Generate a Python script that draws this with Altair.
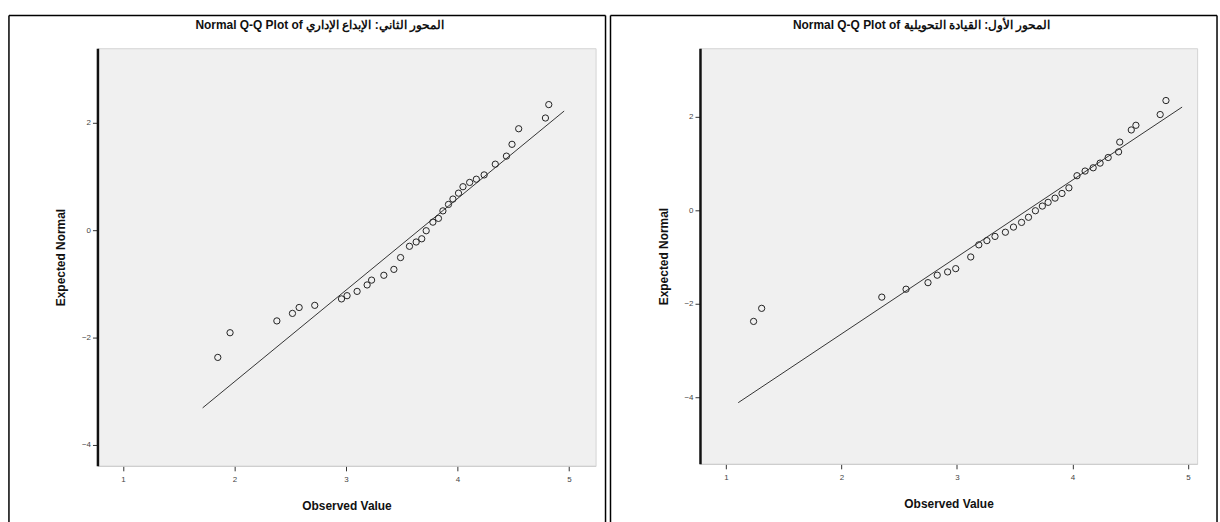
import altair as alt
import pandas as pd

TITLE_LEFT = "Normal Q-Q Plot of المحور الثاني: الإبداع الإداري"
TITLE_RIGHT = "Normal Q-Q Plot of المحور الأول: القيادة التحويلية"
X_TITLE = "Observed Value"
Y_TITLE = "Expected Normal"

x_ticks = [1, 2, 3, 4, 5]
y_ticks = [2, 0, -2, -4]

left_observed = [1.85, 1.96, 2.38, 2.52, 2.58, 2.72, 2.96, 3.01, 3.10, 3.19, 3.23,
                 3.34, 3.43, 3.49, 3.57, 3.63, 3.68, 3.72, 3.78, 3.83, 3.87, 3.92,
                 3.96, 4.01, 4.05, 4.11, 4.17, 4.24, 4.34, 4.44, 4.49, 4.55, 4.79, 4.82]
left_expected = [-2.37, -1.91, -1.69, -1.55, -1.44, -1.40, -1.28, -1.22, -1.14, -1.02, -0.93,
                 -0.84, -0.73, -0.51, -0.30, -0.22, -0.16, -0.01, 0.15, 0.22, 0.36, 0.48,
                 0.58, 0.69, 0.81, 0.89, 0.95, 1.03, 1.23, 1.38, 1.60, 1.89, 2.09, 2.34]
left_line_x = [1.714, 4.958]
left_line_y = [-3.31, 2.22]

right_observed = [1.24, 1.31, 2.35, 2.56, 2.75, 2.83, 2.92, 2.99, 3.12, 3.19, 3.26,
                  3.33, 3.42, 3.49, 3.56, 3.62, 3.68, 3.74, 3.79, 3.85, 3.91, 3.97,
                  4.04, 4.11, 4.18, 4.24, 4.31, 4.40, 4.41, 4.51, 4.55, 4.76, 4.81]
right_expected = [-2.38, -2.10, -1.86, -1.69, -1.55, -1.39, -1.32, -1.25, -1.00, -0.74, -0.65,
                  -0.56, -0.47, -0.36, -0.26, -0.15, -0.01, 0.09, 0.17, 0.26, 0.36, 0.48,
                  0.74, 0.84, 0.91, 1.01, 1.13, 1.25, 1.46, 1.72, 1.82, 2.05, 2.35]
right_line_x = [1.107, 4.95]
right_line_y = [-4.12, 2.21]

FONT = "Liberation Sans"


def panel(obs, exp, lx, ly, title, xdom, ydom, w, h, fx0, fx1):
    pts_df = pd.DataFrame({"obs": obs, "exp": exp})
    line_df = pd.DataFrame({"obs": lx, "exp": ly})
    xenc = alt.X("obs:Q", title=X_TITLE,
                 scale=alt.Scale(domain=xdom, nice=False, zero=False),
                 axis=alt.Axis(values=x_ticks, format="d"))
    yenc = alt.Y("exp:Q", title=Y_TITLE,
                 scale=alt.Scale(domain=ydom, nice=False, zero=False),
                 axis=alt.Axis(values=y_ticks, format="d"))
    one = pd.DataFrame({"t": [title]})
    rule_style = dict(color="#000000", strokeWidth=1.5, clip=False)
    top = alt.Chart(one).mark_rule(**rule_style).encode(
        x=alt.value(fx0), x2=alt.value(fx1), y=alt.value(-33))
    lft = alt.Chart(one).mark_rule(**rule_style).encode(
        x=alt.value(fx0), y=alt.value(-33), y2=alt.value(477))
    rgt = alt.Chart(one).mark_rule(**rule_style).encode(
        x=alt.value(fx1), y=alt.value(-33), y2=alt.value(477))
    ttl = alt.Chart(one).mark_text(
        font=FONT, fontSize=12, fontWeight="bold", color="#111111",
        align="center", baseline="middle", clip=False
    ).encode(text="t:N", x=alt.value(w / 2 - 27), y=alt.value(-23))
    line = alt.Chart(line_df).mark_line(color="#333333", strokeWidth=1).encode(x=xenc, y=yenc)
    pts = alt.Chart(pts_df).mark_point(
        shape="circle", filled=False, color="#222222", size=40, strokeWidth=1, opacity=1
    ).encode(x=xenc, y=yenc)
    return alt.layer(top, lft, rgt, ttl, line, pts).properties(width=w, height=h)


left = panel(left_observed, left_expected, left_line_x, left_line_y, TITLE_LEFT,
             [0.77, 5.24], [-4.39, 3.39], 501, 420, -89, 511)
right = panel(right_observed, right_expected, right_line_x, right_line_y, TITLE_RIGHT,
              [0.776, 5.08], [-5.43, 3.47], 500, 418, -90, 520)

chart = alt.hconcat(left, right, spacing=1).properties(
    padding={"left": 7, "top": 12, "right": 1, "bottom": 0},
    background="#ffffff",
).configure_view(
    fill="#f0f0f0", stroke="#d4d4d4", strokeWidth=1
).configure_axis(
    labelFont=FONT, labelFontSize=8, labelColor="#444444",
    titleFont=FONT, titleFontSize=12, titleFontWeight="bold", titleColor="#111111",
    tickColor="#333333", tickSize=5, grid=False,
).configure_axisX(
    domainColor="#cccccc", domainWidth=1, labelPadding=5, titlePadding=17,
).configure_axisY(
    domainColor="#111111", domainWidth=2.5, labelPadding=2, titlePadding=14,
    labelAngle=0,
)

chart.save("out.html", embed_options={"renderer": "svg", "actions": False})
